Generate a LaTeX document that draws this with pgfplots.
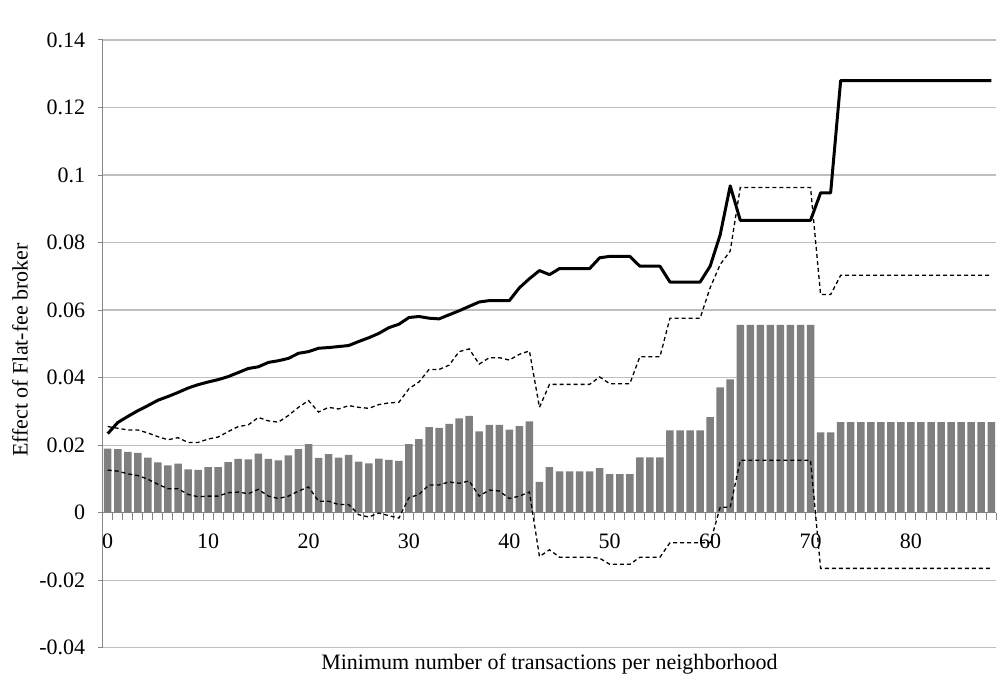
\documentclass[border=0pt]{standalone}
\usepackage{pgfplots}
\usepackage{pgfplotstable}
\pgfplotsset{compat=1.18}
\usepackage{fontspec}
\setmainfont{Liberation Serif}
\definecolor{gridc}{RGB}{191,191,191}
\definecolor{axc}{RGB}{134,134,134}
\definecolor{barc}{RGB}{127,127,127}
\pgfplotstableread{
i bar mid up lo
0 .0190 .0234 .0255 .0126
1 .0188 .0267 .0250 .0123
2 .0180 .0285 .0245 .0115
3 .0177 .0302 .0245 .0110
4 .0163 .0317 .0236 .0099
5 .0149 .0333 .0225 .0084
6 .0140 .0344 .0216 .0071
7 .0145 .0356 .0222 .0071
8 .0128 .0369 .0208 .0054
9 .0127 .0379 .0208 .0047
10 .0135 .0387 .0218 .0049
11 .0135 .0394 .0224 .0049
12 .0150 .0403 .0240 .0059
13 .0159 .0415 .0255 .0061
14 .0158 .0427 .0260 .0056
15 .0175 .0432 .0282 .0069
16 .0159 .0445 .0272 .0049
17 .0155 .0450 .0268 .0042
18 .0170 .0457 .0288 .0049
19 .0188 .0472 .0312 .0064
20 .0203 .0477 .0332 .0076
21 .0162 .0487 .0298 .0034
22 .0173 .0489 .0312 .0034
23 .0163 .0492 .0307 .0024
24 .0171 .0495 .0317 .0024
25 .0151 .0507 .0312 -.0006
26 .0146 .0518 .0309 -.0013
27 .0160 .0531 .0320 -.0001
28 .0156 .0548 .0325 -.0009
29 .0153 .0558 .0327 -.0016
30 .0203 .0578 .0367 .0044
31 .0218 .0581 .0387 .0054
32 .0253 .0576 .0424 .0082
33 .0251 .0574 .0424 .0082
34 .0263 .0586 .0437 .0091
35 .0279 .0598 .0477 .0087
36 .0287 .0611 .0485 .0094
37 .0241 .0624 .0440 .0049
38 .0260 .0628 .0459 .0067
39 .0260 .0628 .0459 .0064
40 .0246 .0628 .0452 .0042
41 .0256 .0666 .0469 .0049
42 .0270 .0693 .0479 .0061
43 .0091 .0717 .0312 -.0130
44 .0135 .0705 .0380 -.0110
45 .0122 .0723 .0380 -.0132
46 .0122 .0723 .0380 -.0132
47 .0122 .0723 .0380 -.0132
48 .0122 .0723 .0380 -.0132
49 .0132 .0755 .0402 -.0135
50 .0114 .0759 .0382 -.0153
51 .0114 .0759 .0382 -.0153
52 .0114 .0759 .0382 -.0153
53 .0164 .0730 .0462 -.0132
54 .0164 .0730 .0462 -.0132
55 .0164 .0730 .0462 -.0132
56 .0244 .0683 .0576 -.0089
57 .0244 .0683 .0576 -.0089
58 .0244 .0683 .0576 -.0089
59 .0244 .0683 .0576 -.0089
60 .0283 .0730 .0666 -.0089
61 .0371 .0823 .0735 .0016
62 .0395 .0968 .0775 .0016
63 .0556 .0866 .0963 .0155
64 .0556 .0866 .0963 .0155
65 .0556 .0866 .0963 .0155
66 .0556 .0866 .0963 .0155
67 .0556 .0866 .0963 .0155
68 .0556 .0866 .0963 .0155
69 .0556 .0866 .0963 .0155
70 .0556 .0866 .0963 .0155
71 .0238 .0947 .0646 -.0165
72 .0238 .0947 .0646 -.0165
73 .0268 .1280 .0703 -.0165
74 .0268 .1280 .0703 -.0165
75 .0268 .1280 .0703 -.0165
76 .0268 .1280 .0703 -.0165
77 .0268 .1280 .0703 -.0165
78 .0268 .1280 .0703 -.0165
79 .0268 .1280 .0703 -.0165
80 .0268 .1280 .0703 -.0165
81 .0268 .1280 .0703 -.0165
82 .0268 .1280 .0703 -.0165
83 .0268 .1280 .0703 -.0165
84 .0268 .1280 .0703 -.0165
85 .0268 .1280 .0703 -.0165
86 .0268 .1280 .0703 -.0165
87 .0268 .1280 .0703 -.0165
88 .0268 .1280 .0703 -.0165
}\data
\begin{document}
\begin{tikzpicture}[font=\fontsize{22bp}{26bp}\selectfont]
\path[use as bounding box] (-102.7bp,-29.3bp) rectangle (895.3bp,647.7bp);
\begin{axis}[
  at={(0,0)}, anchor=south west,
  scale only axis, width=893.6bp, height=607.7bp,
  xmin=-0.5, xmax=88.5, ymin=-0.04, ymax=0.14,
  axis x line=middle, axis y line=left,
  axis line style={-, draw=axc, line width=1.2bp},
  hide obscured x ticks=false, hide obscured y ticks=false,
  xtick={0,10,20,30,40,50,60,70,80},
  xticklabels={0,10,20,30,40,50,60,70,80},
  minor xtick={-0.5,0.5,...,88.5},
  ytick={-0.04,-0.02,0,0.02,0.04,0.06,0.08,0.1,0.12,0.14},
  yticklabels={-0.04,-0.02,0,0.02,0.04,0.06,0.08,0.1,0.12,0.14},
  tick align=outside,
  major tick length=5bp, minor tick length=7bp,
  tick style={draw=axc, line width=1bp},
  major x tick style={draw=none},
  ymajorgrids, major grid style={draw=gridc, line width=1.2bp},
  tick label style={font=\fontsize{22bp}{26bp}\selectfont},
  xticklabel style={yshift=-13bp},
  yticklabel style={xshift=-9bp},
  every axis x label/.style={at={(axis description cs:0.5,0)}, anchor=base, yshift=-22.3bp, font=\fontsize{22bp}{26bp}\selectfont},
  every axis y label/.style={at={(axis description cs:-0.0925,0.49)}, rotate=90, anchor=center, font=\fontsize{22bp}{26bp}\selectfont},
  xlabel={Minimum number of transactions per neighborhood},
  ylabel={Effect of Flat-fee broker},
  no markers,
  clip=false,
]
\addplot[ybar, bar width=7.5bp, fill=barc, draw=none] table[x=i, y=bar] {\data};
\addplot[black, line width=1.3bp, dash pattern=on 4bp off 3bp] table[x=i, y=up] {\data};
\addplot[black, line width=1.3bp, dash pattern=on 4bp off 3bp] table[x=i, y=lo] {\data};
\addplot[black, line width=3bp, line join=round] table[x=i, y=mid] {\data};
\end{axis}
\end{tikzpicture}
\end{document}
